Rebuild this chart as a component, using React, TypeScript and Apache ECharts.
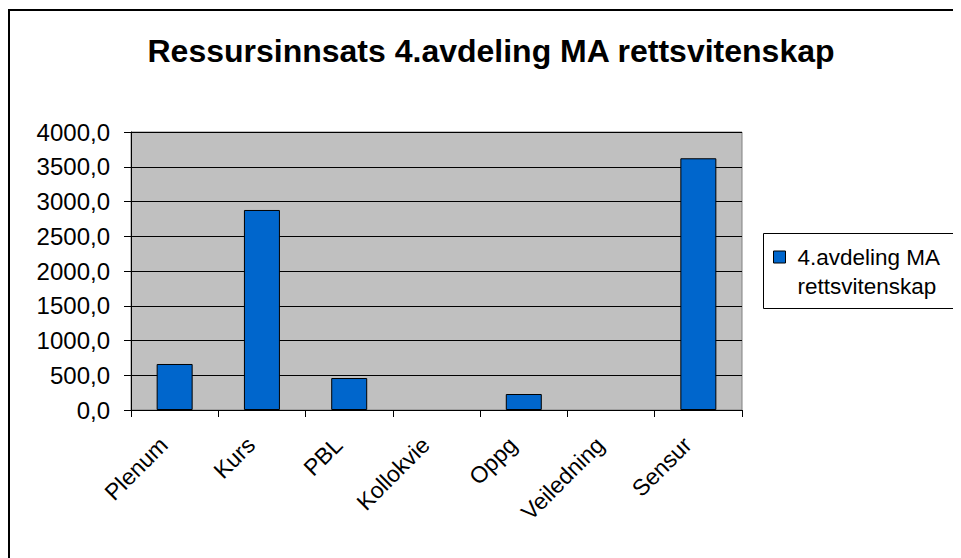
import React, { useEffect, useRef } from "react";
import * as echarts from "echarts";

const title = "Ressursinnsats 4.avdeling MA rettsvitenskap";
const seriesName = "4.avdeling MA rettsvitenskap";
const legendLines = ["4.avdeling MA", "rettsvitenskap"];
const categories = ["Plenum", "Kurs", "PBL", "Kollokvie", "Oppg", "Veiledning", "Sensur"];
const values = [662, 2878, 460, 0, 230, 0, 3622];
const yMin = 0;
const yMax = 4000;
const yInterval = 500;

const FONT = "'Liberation Sans', Arial, sans-serif";

export default function App() {
  const ref = useRef<HTMLDivElement>(null);
  useEffect(() => {
    if (!ref.current) return;
    const chart = echarts.init(ref.current, undefined, { renderer: "svg" });
    chart.setOption({
      animation: false,
      backgroundColor: "#ffffff",
      title: {
        text: title,
        left: 483,
        top: 27,
        padding: 0,
        textAlign: "center",
        textStyle: { fontFamily: FONT, fontSize: 32, fontWeight: "bold", color: "#000" },
      },
      graphic: [
        {
          type: "rect",
          z: -10,
          shape: { x: 1, y: 2, width: 1200, height: 1000 },
          style: { fill: "none", stroke: "#000", lineWidth: 2 },
        },
        {
          type: "rect",
          z: 0,
          shape: { x: 755.5, y: 225.5, width: 300, height: 75 },
          style: { fill: "#fff", stroke: "#000", lineWidth: 1 },
        },
      ],
      legend: {
        left: 765,
        top: 205.5,
        padding: 0,
        z: 10,
        itemWidth: 12,
        itemHeight: 12,
        icon: "rect",
        itemStyle: { borderColor: "#000", borderWidth: 1 },
        formatter: () => "\n" + legendLines.join("\n"),
        textStyle: {
          fontFamily: FONT,
          fontSize: 22.5,
          lineHeight: 29,
          color: "#000",
          padding: [0, 0, 0, 7],
        },
        data: [seriesName],
      },
      grid: {
        left: 123,
        top: 124,
        width: 611,
        height: 278,
        show: true,
        backgroundColor: "#c0c0c0",
        borderColor: "#808080",
        borderWidth: 1,
      },
      xAxis: {
        type: "category",
        data: categories,
        axisLine: { lineStyle: { color: "#000", width: 1 } },
        axisTick: { show: true, length: 7, lineStyle: { color: "#000" } },
        axisLabel: {
          interval: 0,
          rotate: 45,
          margin: 20,
          padding: [0, 15.5, 0, 0],
          fontFamily: FONT,
          fontSize: 23,
          color: "#000",
        },
      },
      yAxis: {
        type: "value",
        min: yMin,
        max: yMax,
        interval: yInterval,
        axisLine: { show: true, lineStyle: { color: "#000", width: 1 } },
        axisTick: { show: true, length: 7, lineStyle: { color: "#000" } },
        splitLine: { show: true, lineStyle: { color: "#000", width: 1 } },
        axisLabel: {
          margin: 21,
          fontFamily: FONT,
          fontSize: 24,
          color: "#000",
          formatter: (v: number) => v.toFixed(1).replace(".", ","),
        },
      },
      series: [
        {
          name: seriesName,
          type: "bar",
          data: values.map((v) => (v === 0 ? { value: v, itemStyle: { borderWidth: 0 } } : v)),
          barWidth: 36,
          itemStyle: { color: "#0066cc", borderColor: "#000", borderWidth: 1 },
        },
      ],
    });
    return () => chart.dispose();
  }, []);
  return <div ref={ref} style={{ width: 953, height: 550 }} />;
}
